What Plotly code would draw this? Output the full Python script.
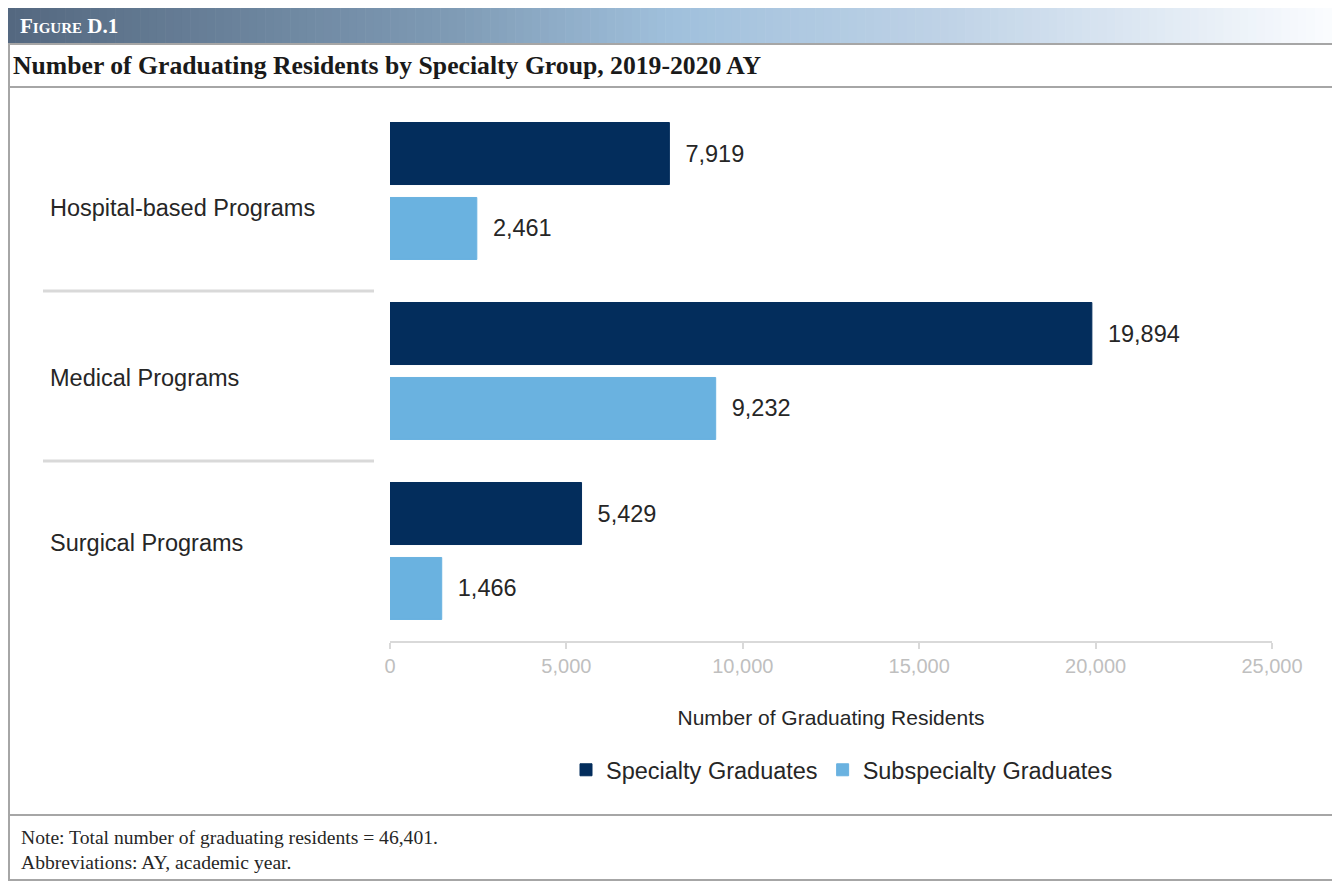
import plotly.graph_objects as go

# data
categories = ["Hospital-based Programs", "Medical Programs", "Surgical Programs"]
series_names = ["Specialty Graduates", "Subspecialty Graduates"]
specialty = [7919, 19894, 5429]
subspecialty = [2461, 9232, 1466]
x_ticks = [0, 5000, 10000, 15000, 20000, 25000]

# the page body adds an 8px margin, so the figure is shrunk and shifted by it
OFF = 8
W, H = 1340 - OFF, 882 - OFF
L, R, T, B = 390, 1272, 101, 641  # plot area in screen pixels


def px(x):
    return (x - L) / (R - L)


def py(y):
    return (B - y) / (B - T)


fig = go.Figure()
colors = ["#032d5c", "#6ab2e0"]
for name, vals, col in zip(series_names, [specialty, subspecialty], colors):
    fig.add_trace(go.Bar(
        y=categories, x=vals, name=name, orientation="h",
        marker=dict(color=col, line=dict(color=col, width=1)),
        text=vals, texttemplate="\u00a0\u00a0%{x:,}", textposition="outside",
        textfont=dict(size=23.5, color="#262626", family="Liberation Sans"),
        cliponaxis=False, hoverinfo="skip",
    ))

shapes = []

# header gradient band made of thin strips
stops = [(0.0, (84, 104, 128)), (0.33, (126, 154, 180)), (0.5, (160, 192, 220)),
         (0.7, (190, 210, 230)), (1.0, (252, 253, 255))]


def grad(t):
    for (t0, c0), (t1, c1) in zip(stops[:-1], stops[1:]):
        if t <= t1:
            f = (t - t0) / (t1 - t0)
            return "rgb(%d,%d,%d)" % tuple(round(a + (b - a) * f) for a, b in zip(c0, c1))
    return "rgb(%d,%d,%d)" % stops[-1][1]


n = 160
x_start, x_end = 7, 1340
for i in range(n):
    a = x_start + (x_end - x_start) * i / n
    b = x_start + (x_end - x_start) * (i + 1) / n + 0.6
    shapes.append(dict(type="rect", xref="paper", yref="paper",
                       x0=px(a), x1=px(b), y0=py(44), y1=py(7),
                       fillcolor=grad((i + 0.5) / n), line=dict(width=0), layer="below"))

border = dict(color="#a6a6a6", width=2)
for y in [44, 87, 815, 880]:
    shapes.append(dict(type="line", xref="paper", yref="paper",
                       x0=px(8), x1=px(1338), y0=py(y), y1=py(y), line=border))
for x in [9, 1338]:
    shapes.append(dict(type="line", xref="paper", yref="paper",
                       x0=px(x), x1=px(x), y0=py(44), y1=py(880), line=border))

# category separators
for yv in [0.555, 1.5]:
    shapes.append(dict(type="line", xref="paper", yref="y",
                       x0=px(43), x1=px(374), y0=yv, y1=yv,
                       line=dict(color="#d9d9d9", width=3)))

annotations = []
label_shift = [-17, -7, 8]
for cat, s in zip(categories, label_shift):
    annotations.append(dict(x=px(48), y=cat, xref="paper", yref="y", text=cat,
                            showarrow=False, xanchor="left", yanchor="middle", yshift=s,
                            font=dict(size=23.5, color="#262626", family="Liberation Sans")))

annotations.append(dict(x=px(18), y=py(26), xref="paper", yref="paper",
                        text="<b>F<span style='font-size:15px'>IGURE</span> D.1</b>",
                        showarrow=False, xanchor="left", yanchor="middle",
                        font=dict(size=21, color="white", family="Liberation Serif")))
annotations.append(dict(x=px(11), y=py(66), xref="paper", yref="paper",
                        text="<b>Number of Graduating Residents by Specialty Group, 2019-2020 AY</b>",
                        showarrow=False, xanchor="left", yanchor="middle",
                        font=dict(size=25.7, color="#1a1a1a", family="Liberation Serif")))
annotations.append(dict(x=px(19), y=py(838), xref="paper", yref="paper",
                        text="Note: Total number of graduating residents = 46,401.",
                        showarrow=False, xanchor="left", yanchor="middle",
                        font=dict(size=19.6, color="#262626", family="Liberation Serif")))
annotations.append(dict(x=px(19), y=py(862), xref="paper", yref="paper",
                        text="Abbreviations: AY, academic year.",
                        showarrow=False, xanchor="left", yanchor="middle",
                        font=dict(size=19.6, color="#262626", family="Liberation Serif")))

fig.update_layout(
    width=W, height=H,
    margin=dict(l=L - OFF, r=1340 - R, t=T - OFF, b=882 - B, pad=0),
    paper_bgcolor="white", plot_bgcolor="white",
    barmode="group", bargap=0.167, bargroupgap=0.173,
    showlegend=True,
    legend=dict(orientation="h", x=px(1118), xanchor="right", y=py(770), yanchor="middle",
                font=dict(size=23.5, color="#262626", family="Liberation Sans"),
                itemwidth=30, traceorder="normal", bgcolor="rgba(0,0,0,0)"),
    xaxis=dict(range=[0, 25000], tickvals=x_ticks, tickformat=",", showgrid=False,
               zeroline=False, showline=True, linecolor="#d9d9d9", linewidth=2,
               ticks="outside", ticklen=6, tickcolor="#d9d9d9", tickwidth=2,
               tickfont=dict(size=20, color="#bfbfbf", family="Liberation Sans"),
               title=dict(text="Number of Graduating Residents", standoff=34,
                          font=dict(size=21, color="#262626", family="Liberation Sans"))),
    yaxis=dict(autorange="reversed", showticklabels=False, showgrid=False,
               zeroline=False, showline=False, ticks=""),
    shapes=shapes, annotations=annotations,
)

fig.write_html("out.html")
